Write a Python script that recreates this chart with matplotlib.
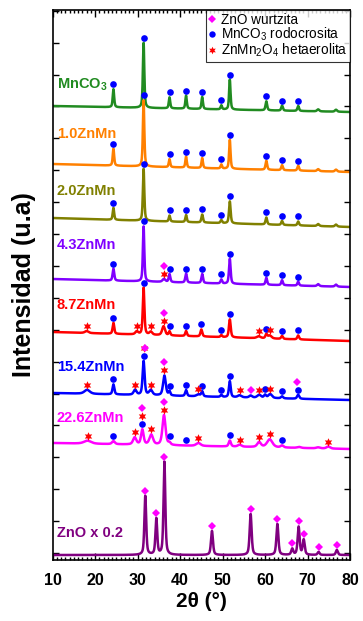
import numpy as np
import matplotlib
matplotlib.use('Agg')
import matplotlib.pyplot as plt
from matplotlib.lines import Line2D

plt.rcParams['font.family'] = ['Liberation Sans', 'DejaVu Sans']
plt.rcParams['mathtext.fontset'] = 'custom'
plt.rcParams['mathtext.rm'] = 'Liberation Sans'
plt.rcParams['mathtext.bf'] = 'Liberation Sans:bold'

# ---------------------------------------------------------------- data
sample_names = [r'MnCO$_{\mathbf{3}}$', '1.0ZnMn', '2.0ZnMn', '4.3ZnMn',
                '8.7ZnMn', '15.4ZnMn', '22.6ZnMn', 'ZnO x 0.2']

# background level of each stacked pattern at 10° and at 80° (a.u.)
base_start = [454, 396, 342, 281, 228, 167, 117, 5]
base_end = [448, 388, 333, 273, 219, 160, 111, 5]

# reflections: (2θ, height, FWHM)
peaks_mnco3 = [(24.3, 18, 0.4), (31.4, 65, 0.4), (37.5, 11, 0.4), (41.4, 13, 0.4),
               (45.2, 12, 0.4), (49.7, 4, 0.4), (51.7, 30, 0.4), (60.3, 9, 0.45),
               (64.0, 5, 0.45), (67.8, 5, 0.45), (72.5, 2, 0.6), (76.7, 2, 0.6)]
peaks_10 = [(24.3, 17, 0.4), (31.4, 66, 0.4), (37.5, 8, 0.4), (41.4, 11, 0.4),
            (45.2, 10, 0.4), (49.7, 4, 0.4), (51.7, 29, 0.4), (60.3, 9, 0.45),
            (64.0, 5, 0.45), (67.8, 5, 0.45), (72.5, 2, 0.6), (76.7, 2, 0.6)]
peaks_20 = [(24.3, 12, 0.4), (31.4, 52, 0.4), (37.5, 6, 0.4), (41.4, 7, 0.4),
            (45.2, 8, 0.45), (49.7, 3, 0.45), (51.7, 22, 0.45), (60.3, 7, 0.45),
            (64.0, 4, 0.45), (67.8, 4, 0.45), (72.5, 2, 0.6), (76.7, 2, 0.6)]
peaks_43 = [(24.3, 12, 0.45), (31.4, 55, 0.4), (36.2, 3, 0.8), (37.5, 8, 0.45),
            (41.4, 9, 0.45), (45.2, 9, 0.45), (49.7, 4, 0.45), (51.7, 25, 0.45),
            (60.3, 7, 0.45), (64.0, 5, 0.45), (67.8, 4, 0.45), (72.5, 2, 0.6), (76.7, 2, 0.6)]
peaks_87 = [(18.0, 2, 1.0), (24.3, 11, 0.45), (29.8, 3, 0.8), (31.4, 47, 0.45),
            (33.1, 3, 0.8), (36.1, 9, 0.8), (37.5, 4, 0.45), (41.4, 5, 0.45),
            (45.0, 7, 0.5), (49.7, 2, 0.45), (51.7, 18, 0.5), (58.5, 2, 1.0),
            (60.3, 4, 0.5), (61.1, 3, 1.0), (64.0, 3, 0.5), (67.8, 4, 0.5)]
peaks_154 = [(18.1, 4, 1.5), (24.3, 10, 0.5), (29.4, 5, 0.8), (31.4, 34, 0.55),
             (33.1, 5, 0.9), (36.3, 20, 0.75), (37.5, 4, 0.45), (41.4, 6, 0.5),
             (44.3, 2, 1.0), (45.2, 5, 0.5), (49.7, 2, 0.5), (51.7, 16, 0.5),
             (54.0, 2, 1.0), (56.6, 2, 0.8), (58.6, 3, 1.0), (60.0, 3, 0.6),
             (61.2, 4, 1.0), (64.0, 2, 0.6), (67.8, 4, 0.6)]
peaks_226 = [(18.2, 3, 2.0), (24.3, 3, 0.8), (29.3, 7, 0.9), (31.1, 15, 0.7),
             (33.2, 10, 1.0), (36.2, 30, 0.85), (37.5, 2, 0.6), (44.3, 3, 1.2),
             (51.7, 6, 0.6), (54.0, 2, 1.0), (58.6, 5, 1.0), (61.1, 8, 1.5),
             (64.0, 2, 0.8), (68.0, 1, 1.0), (72.5, 1, 1.0), (74.9, 2, 1.0)]
peaks_zno = [(31.8, 59, 0.5), (34.4, 36, 0.5), (36.3, 93, 0.5), (47.5, 24, 0.55),
             (56.6, 41, 0.55), (62.9, 31, 0.55), (66.4, 6, 0.55), (67.9, 28, 0.55),
             (69.1, 15, 0.55), (72.6, 3, 0.55), (76.9, 5, 0.55)]
sample_peaks = [peaks_mnco3, peaks_10, peaks_20, peaks_43,
                peaks_87, peaks_154, peaks_226, peaks_zno]

# phase identification marks (2θ) per pattern
rodo_main = [24.3, 31.4, 37.5, 41.4, 45.2, 49.7, 51.7, 60.3, 64.0, 67.8]
marks_rodocrosita = [rodo_main, rodo_main, rodo_main, rodo_main,
                     [24.3, 31.4, 37.5, 41.4, 45.0, 49.7, 51.7, 60.3, 64.0, 67.8],
                     [24.3, 31.4, 37.5, 41.4, 45.2, 49.7, 51.7, 60.0, 64.0, 67.8],
                     [24.3, 31.1, 37.5, 41.4, 51.7, 64.0],
                     []]
marks_hetaerolita = [[], [], [], [36.2],
                     [18.0, 29.8, 33.1, 36.1, 58.5, 61.1],
                     [18.1, 29.4, 31.4, 33.1, 36.3, 44.3, 54.0, 58.6, 61.2],
                     [18.2, 29.3, 31.1, 33.2, 36.2, 44.3, 54.0, 58.6, 61.1, 74.9],
                     []]
marks_wurtzita = [[], [], [], [36.2],
                  [36.1],
                  [31.8, 36.3, 56.6, 67.6],
                  [31.1, 36.2],
                  [31.8, 34.4, 36.3, 47.5, 56.6, 62.9, 66.4, 67.9, 69.1, 72.6, 76.9]]

colors = ['#218B21', '#FF8000', '#808000', '#8000FF',
          '#FF0000', '#0000FF', '#FF00FF', '#800080']
label_y = [475, 426, 369, 315, 255, 193, 142, 27]

legend_labels = ['ZnO wurtzita', 'MnCO$_3$ rodocrosita', 'ZnMn$_2$O$_4$ hetaerolita']

# ---------------------------------------------------------------- figure
fig = plt.figure(figsize=(3.63, 6.21), dpi=100)
ax = fig.add_axes([0.1452, 0.0982, 0.819, 0.8857])

two_theta = np.linspace(10, 80, 3501)


def profile(x, c, h, w):
    g = np.exp(-4 * np.log(2) * ((x - c) / w) ** 2)
    lz = 1.0 / (1.0 + 4 * ((x - c) / w) ** 2)
    return h * (0.45 * g + 0.55 * lz)


star = (6, 1, 0)
mk_style = {
    'rodo': dict(marker='o', color='#0000FF', ms=4.8),
    'het': dict(marker=star, color='#FF0000', ms=6.2),
    'wur': dict(marker='D', color='#FF00FF', ms=4.3),
}
gap = 5.0
step = 8.0

for i, name in enumerate(sample_names):
    y = base_start[i] + (base_end[i] - base_start[i]) * (two_theta - 10) / 70.0
    for c, h, w in sample_peaks[i]:
        y = y + profile(two_theta, c, h, w)
    ax.plot(two_theta, y, color=colors[i], lw=1.8, zorder=2)

    placed = []
    for kind, angles in (('rodo', marks_rodocrosita[i]),
                         ('het', marks_hetaerolita[i]),
                         ('wur', marks_wurtzita[i])):
        for a in angles:
            win = np.abs(two_theta - a) <= 0.25
            ytop = y[win].max() + gap
            level = sum(1 for p in placed if abs(p - a) < 0.6)
            placed.append(a)
            st = mk_style[kind]
            ax.plot([a], [ytop + level * step], linestyle='none', marker=st['marker'],
                    color=st['color'], markersize=st['ms'], markeredgewidth=0, zorder=4)

    ax.text(11.0, label_y[i], name, color=colors[i], fontsize=10.5,
            fontweight='bold', ha='left', va='center', zorder=5)

ax.set_xlim(10, 80)
ax.set_ylim(0, 550)
ax.set_xticks(np.arange(10, 81, 10))
ax.set_xticks(np.arange(10, 81, 1), minor=True)
ax.set_yticks(np.arange(7, 550, 31.9))
ax.set_yticklabels([])
ax.tick_params(axis='both', which='both', direction='in', top=True, right=True, width=1.0)
ax.tick_params(axis='x', which='major', length=5, labelsize=11.5, pad=9)
ax.tick_params(axis='x', which='minor', length=2.5)
ax.tick_params(axis='y', which='major', length=4)
for lab in ax.get_xticklabels():
    lab.set_fontweight('bold')
for sp in ax.spines.values():
    sp.set_linewidth(1.2)

ax.set_xlabel('2θ (°)', fontsize=15, fontweight='bold', labelpad=3)
ax.set_ylabel('Intensidad (u.a)', fontsize=18, fontweight='bold', va='center')
ax.yaxis.set_label_coords(-0.097, 0.5)

handles = [Line2D([], [], linestyle='none', marker='D', color='#FF00FF', ms=4.0, mew=0),
           Line2D([], [], linestyle='none', marker='o', color='#0000FF', ms=4.6, mew=0),
           Line2D([], [], linestyle='none', marker=star, color='#FF0000', ms=5.5, mew=0)]
leg = ax.legend(handles, legend_labels, loc='upper right', bbox_to_anchor=(1.0, 1.0),
                fontsize=9.8, frameon=True, fancybox=False, edgecolor='black',
                handlelength=0.5, handletextpad=0.35, borderpad=0.2, labelspacing=-0.1,
                borderaxespad=0.0, handleheight=0.5)
leg.get_frame().set_linewidth(0.8)

fig.savefig('out.png', dpi=100)
